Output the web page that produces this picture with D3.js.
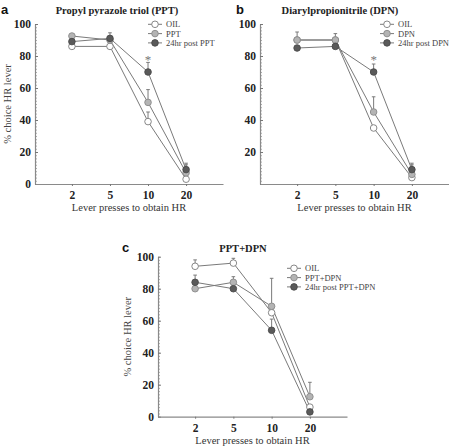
<!DOCTYPE html>
<html><head><meta charset="utf-8">
<script src="https://cdn.jsdelivr.net/npm/d3@7"></script>
<style>body{margin:0;background:#fff}svg{display:block}</style>
</head><body>
<script>
const categories = ["2","5","10","20"];
const yTicks = [0,20,40,60,80,100];
const yTicksB = [20,40,60,80,100];

// Panel a
const aOil   = [86, 86, 39, 3];
const aDrug  = [92.5, 90, 51, 7];
const aPost  = [89, 91, 70, 9];
const aOilErr  = [null, null, 45, null];
const aDrugErr = [94, null, 59, 13];
const aPostErr = [null, 94.5, 76, 12];
// Panel b
const bOil   = [90, 90, 35, 4];
const bDrug  = [90, 90, 45, 6];
const bPost  = [85, 86, 70, 9];
const bOilErr  = [95, 94, null, null];
const bDrugErr = [null, null, 54.5, 12];
const bPostErr = [null, null, 75, 13];
// Panel c
const cOil   = [94, 96, 65, 6];
const cDrug  = [80, 84, 69, 12.5];
const cPost  = [84, 80, 54, 3];
const cOilErr  = [98, 99, null, null];
const cDrugErr = [null, 87.5, 86.5, 21.5];
const cPostErr = [88.5, null, 61, null];

const seriesNamesA = ["OIL","PPT","24hr post PPT"];
const seriesNamesB = ["OIL","DPN","24hr post DPN"];
const seriesNamesC = ["OIL","PPT+DPN","24hr post PPT+DPN"];

const fills = ["#ffffff","#b4b4b4","#5a5a5a"];
const strokes = ["#7a7a7a","#8a8a8a","#4a4a4a"];
const lineCol = "#7a7a7a";
const serif = "'Liberation Serif','Times New Roman',serif";

const svg = d3.select("body").append("svg").attr("width",449).attr("height",446);

function panel(o){
  const g = svg.append("g");
  const x = d3.scalePoint().domain(categories).range([o.x0,o.x1]).padding(0.97);
  const y = d3.scaleLinear().domain([0,100]).range([o.yb,o.yt]);

  const minors = d3.range(0,101,2);
  g.append("g").attr("transform",`translate(${o.x0},0)`)
    .call(d3.axisRight(y).tickValues(minors).tickSize(2).tickFormat(""))
    .call(s=>{s.select(".domain").remove(); s.selectAll("line").attr("stroke","#9a9a9a").attr("stroke-width",0.8);});
  const ya = g.append("g").attr("transform",`translate(${o.x0},0)`)
    .call(d3.axisLeft(y).tickValues(o.yTicks).tickSize(0).tickPadding(4).tickSizeOuter(0));
  ya.select(".domain").attr("stroke","#8a8a8a").attr("stroke-width",1.2);
  ya.selectAll("text").attr("font-family",serif).attr("font-weight","bold").attr("font-size",11.5).attr("fill","#222");
  g.append("g").attr("transform",`translate(${o.x0},0)`)
    .call(d3.axisRight(y).tickValues(yTicks).tickSize(3).tickFormat(""))
    .call(s=>{s.select(".domain").remove(); s.selectAll("line").attr("stroke","#777");});

  const xa = g.append("g").attr("transform",`translate(0,${o.yb})`)
    .call(d3.axisBottom(x).tickSize(2).tickPadding(5).tickSizeOuter(0));
  xa.select(".domain").attr("stroke","#8a8a8a").attr("stroke-width",1.2);
  xa.selectAll("line").attr("stroke","#777");
  xa.selectAll("text").attr("font-family",serif).attr("font-weight","bold").attr("font-size",11.5).attr("fill","#222");

  g.append("text").attr("x",(o.x0+o.x1)/2).attr("y",o.yb+27).attr("text-anchor","middle")
    .attr("font-family",serif).attr("font-size",10.5).attr("fill","#333").text("Lever presses to obtain HR");
  if(o.ylab){
    g.append("text").attr("transform",`translate(${o.ylabX},${(o.yb+o.yt)/2}) rotate(-90)`)
      .attr("text-anchor","middle").attr("font-family",serif).attr("font-size",10.5).attr("fill","#444").text("% choice HR lever");
  }
  g.append("text").attr("x",o.titleX).attr("y",o.titleY).attr("text-anchor","middle")
    .attr("font-family",serif).attr("font-weight","bold").attr("font-size",10.5).attr("fill","#222").text(o.title);
  g.append("text").attr("x",o.letterX).attr("y",o.letterY)
    .attr("font-family","'Liberation Sans',Arial,sans-serif").attr("font-weight","bold").attr("font-size",13).attr("fill","#111").text(o.letter);

  const line = d3.line().x((d,i)=>x(categories[i])).y(d=>y(d));
  o.series.forEach((s,k)=>{
    g.append("path").datum(s).attr("d",line).attr("fill","none").attr("stroke",lineCol).attr("stroke-width",1);
  });
  o.errs.forEach((e,k)=>{
    e.forEach((v,i)=>{
      if(v==null) return;
      const cx = x(categories[i]);
      g.append("line").attr("x1",cx).attr("x2",cx).attr("y1",y(o.series[k][i])).attr("y2",y(v)).attr("stroke",lineCol).attr("stroke-width",1);
      g.append("line").attr("x1",cx-1.8).attr("x2",cx+1.8).attr("y1",y(v)).attr("y2",y(v)).attr("stroke",lineCol).attr("stroke-width",1);
    });
  });
  o.series.forEach((s,k)=>{
    g.selectAll(null).data(s).join("circle").attr("cx",(d,i)=>x(categories[i])).attr("cy",d=>y(d))
      .attr("r",3.3).attr("fill",fills[k]).attr("stroke",strokes[k]).attr("stroke-width",0.9);
  });
  if(o.star){
    g.append("text").attr("x",x("10")).attr("y",y(o.star)+6).attr("text-anchor","middle")
      .attr("font-family",serif).attr("font-size",13).attr("fill","#777").text("*");
  }
  o.names.forEach((n,k)=>{
    const ly = o.legY + k*9.3;
    g.append("line").attr("x1",o.legX-7).attr("x2",o.legX+7).attr("y1",ly).attr("y2",ly).attr("stroke",lineCol);
    g.append("circle").attr("cx",o.legX).attr("cy",ly).attr("r",3.3).attr("fill",fills[k]).attr("stroke",strokes[k]).attr("stroke-width",0.9);
    g.append("text").attr("x",o.legX+11).attr("y",ly+3).attr("font-family",serif).attr("font-size",8.5).attr("fill","#444").text(n);
  });
}

panel({x0:35,x1:223,yb:184,yt:24,yTicks:yTicks,series:[aOil,aDrug,aPost],errs:[aOilErr,aDrugErr,aPostErr],
  names:seriesNamesA,legX:155,legY:24.3,title:"Propyl pyrazole triol (PPT)",titleX:117,titleY:14,letter:"a",letterX:1,letterY:14,
  ylab:true,ylabX:11,star:79});
panel({x0:260,x1:449,yb:184,yt:24,yTicks:yTicksB,series:[bOil,bDrug,bPost],errs:[bOilErr,bDrugErr,bPostErr],
  names:seriesNamesB,legX:387,legY:24.3,title:"Diarylpropionitrile (DPN)",titleX:340,titleY:14,letter:"b",letterX:236,letterY:14,
  ylab:false,star:79});
panel({x0:158,x1:347,yb:416.7,yt:256.7,yTicks:yTicks,series:[cOil,cDrug,cPost],errs:[cOilErr,cDrugErr,cPostErr],
  names:seriesNamesC,legX:294,legY:268.3,title:"PPT+DPN",titleX:243,titleY:252,letter:"c",letterX:122,letterY:252,
  ylab:true,ylabX:131,star:null});
</script>
</body></html>
